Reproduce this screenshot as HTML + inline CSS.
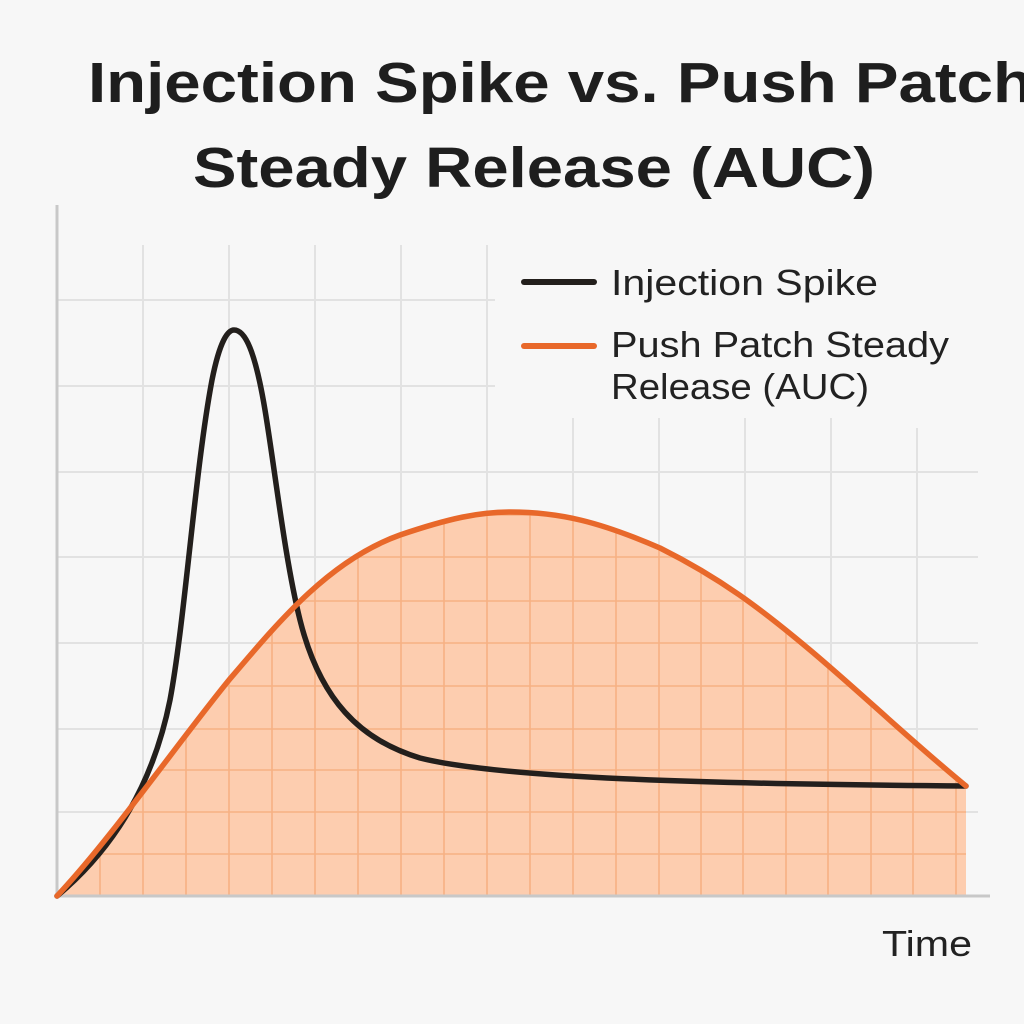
<!DOCTYPE html>
<html><head><meta charset="utf-8"><style>
html,body{margin:0;padding:0;background:#f7f7f7;}
svg{display:block;}
</style></head><body>
<svg width="1024" height="1024" viewBox="0 0 1024 1024" xmlns="http://www.w3.org/2000/svg">
<rect width="1024" height="1024" fill="#f7f7f7"/>
<defs>
<clipPath id="fillclip">
<path d="M57,896 C110,840 180,740 229,680 C280,620 330,560 400,535 C450,518 480,512 510,512 C560,512 600,522 660,548 C720,578 760,608 810,650 C860,692 910,740 966,786 L966,896 Z"/>
</clipPath>
</defs>
<g stroke="#e2e2e2" stroke-width="2" fill="none">
<line x1="143" y1="245" x2="143" y2="896"/>
<line x1="229" y1="245" x2="229" y2="896"/>
<line x1="315" y1="245" x2="315" y2="896"/>
<line x1="401" y1="245" x2="401" y2="896"/>
<line x1="487" y1="245" x2="487" y2="896"/>
<line x1="573" y1="418" x2="573" y2="896"/>
<line x1="659" y1="418" x2="659" y2="896"/>
<line x1="745" y1="418" x2="745" y2="896"/>
<line x1="831" y1="418" x2="831" y2="896"/>
<line x1="917" y1="428" x2="917" y2="896"/>
<line x1="57" y1="300" x2="495" y2="300"/>
<line x1="57" y1="386" x2="495" y2="386"/>
<line x1="57" y1="472" x2="978" y2="472"/>
<line x1="57" y1="557" x2="978" y2="557"/>
<line x1="57" y1="643" x2="978" y2="643"/>
<line x1="57" y1="729" x2="978" y2="729"/>
<line x1="57" y1="812" x2="978" y2="812"/>
</g>
<g clip-path="url(#fillclip)">
<rect x="0" y="0" width="1024" height="1024" fill="#fdcdaf"/>
<g stroke="#f7b183" stroke-width="1.6">
<line x1="100" y1="0" x2="100" y2="900"/><line x1="143" y1="0" x2="143" y2="900"/><line x1="186" y1="0" x2="186" y2="900"/><line x1="229" y1="0" x2="229" y2="900"/><line x1="272" y1="0" x2="272" y2="900"/><line x1="315" y1="0" x2="315" y2="900"/><line x1="358" y1="0" x2="358" y2="900"/><line x1="401" y1="0" x2="401" y2="900"/><line x1="444" y1="0" x2="444" y2="900"/><line x1="487" y1="0" x2="487" y2="900"/><line x1="530" y1="0" x2="530" y2="900"/><line x1="573" y1="0" x2="573" y2="900"/><line x1="616" y1="0" x2="616" y2="900"/><line x1="659" y1="0" x2="659" y2="900"/><line x1="701" y1="0" x2="701" y2="900"/><line x1="743" y1="0" x2="743" y2="900"/><line x1="786" y1="0" x2="786" y2="900"/><line x1="828" y1="0" x2="828" y2="900"/><line x1="871" y1="0" x2="871" y2="900"/><line x1="913" y1="0" x2="913" y2="900"/><line x1="956" y1="0" x2="956" y2="900"/>
<line x1="0" y1="854" x2="1024" y2="854"/><line x1="0" y1="812" x2="1024" y2="812"/><line x1="0" y1="770" x2="1024" y2="770"/><line x1="0" y1="729" x2="1024" y2="729"/><line x1="0" y1="686" x2="1024" y2="686"/><line x1="0" y1="643" x2="1024" y2="643"/><line x1="0" y1="601" x2="1024" y2="601"/><line x1="0" y1="557" x2="1024" y2="557"/><line x1="0" y1="515" x2="1024" y2="515"/>
</g>
</g>
<line x1="57" y1="205" x2="57" y2="897" stroke="#c8c8c8" stroke-width="3"/>
<line x1="57" y1="896" x2="990" y2="896" stroke="#c8c8c8" stroke-width="3"/>
<path d="M57,896 C100,860 150,800 170,700 C185,620 195,470 212,380 C220,340 228,330 234,330 C245,330 255,350 265,410 C275,470 285,560 300,620 C320,700 360,740 420,758 C500,778 700,784 966,786" fill="none" stroke="#231f1c" stroke-width="5.5" stroke-linecap="round" stroke-linejoin="round"/>
<path d="M57,896 C110,840 180,740 229,680 C280,620 330,560 400,535 C450,518 480,512 510,512 C560,512 600,522 660,548 C720,578 760,608 810,650 C860,692 910,740 966,786" fill="none" stroke="#e8682a" stroke-width="5.5" stroke-linecap="round"/>
<g font-family="Liberation Sans, Arial, sans-serif" font-weight="bold" fill="#1e1e1e" font-size="57">
<text x="88" y="102" textLength="945" lengthAdjust="spacingAndGlyphs">Injection Spike vs. Push Patch</text>
<text x="193" y="187" textLength="682" lengthAdjust="spacingAndGlyphs">Steady Release (AUC)</text>
</g>
<line x1="524" y1="282" x2="594" y2="282" stroke="#231f1c" stroke-width="6" stroke-linecap="round"/>
<line x1="524" y1="346" x2="594" y2="346" stroke="#e8682a" stroke-width="6" stroke-linecap="round"/>
<g font-family="Liberation Sans, Arial, sans-serif" fill="#222" font-size="36">
<text x="611" y="295" textLength="267" lengthAdjust="spacingAndGlyphs">Injection Spike</text>
<text x="611" y="357" textLength="338" lengthAdjust="spacingAndGlyphs">Push Patch Steady</text>
<text x="611" y="399" textLength="258" lengthAdjust="spacingAndGlyphs">Release (AUC)</text>
<text x="882" y="956" textLength="90" lengthAdjust="spacingAndGlyphs">Time</text>
</g>
</svg>
</body></html>
